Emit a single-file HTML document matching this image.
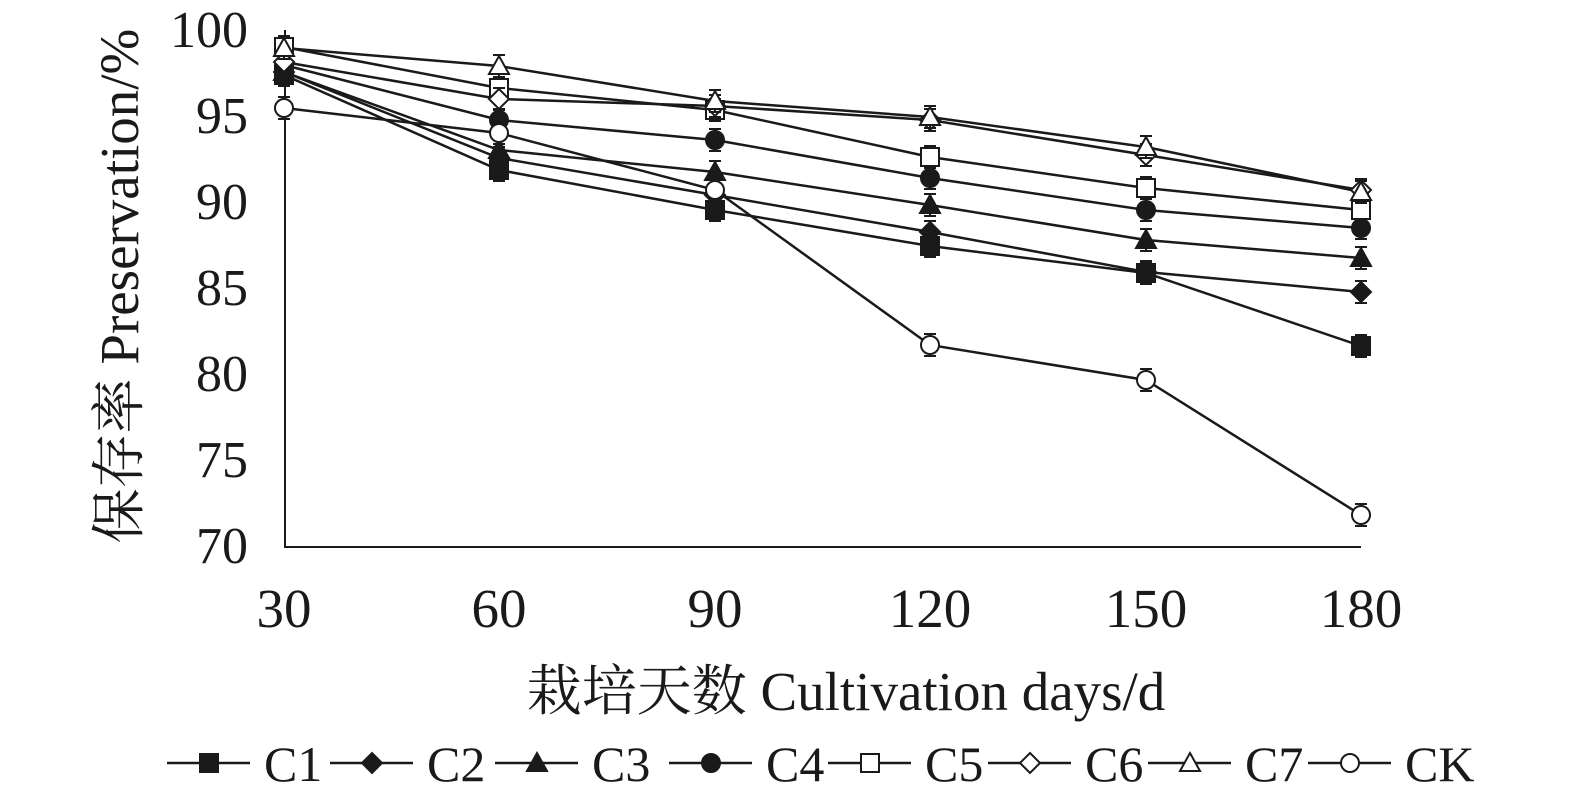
<!DOCTYPE html>
<html><head><meta charset="utf-8"><style>
html,body{margin:0;padding:0;background:#fff;}
svg{display:block;font-family:"Liberation Serif","Noto Serif CJK SC",serif;}
</style></head><body>
<svg id="s" width="1575" height="796" viewBox="0 0 1575 796" xmlns="http://www.w3.org/2000/svg">
<g stroke="#1a1a1a" stroke-width="2" fill="none">
<line x1="285" y1="30" x2="285" y2="547"/>
<line x1="284" y1="547" x2="1361" y2="547"/>
</g>
<g font-size="52" fill="#1a1a1a" text-anchor="end">
<text x="248" y="47">100</text>
<text x="248" y="133">95</text>
<text x="248" y="219">90</text>
<text x="248" y="305">85</text>
<text x="248" y="391">80</text>
<text x="248" y="477">75</text>
<text x="248" y="563">70</text>
</g>
<g font-size="55" fill="#1a1a1a" text-anchor="middle">
<text x="284" y="627">30</text>
<text x="499" y="627">60</text>
<text x="715" y="627">90</text>
<text x="930" y="627">120</text>
<text x="1146" y="627">150</text>
<text x="1361" y="627">180</text>
<text x="846" y="710">栽培天数 Cultivation days/d</text>
<text transform="translate(138,286) rotate(-90)">保存率 Preservation/%</text>
</g>
<g id="plot"></g>
<g id="leg"></g>
</svg>
<script>
var X=[284,499,715,930,1146,1361];
var S=[
["sqf",[75,170,210,246,273,346]],
["dif",[72,158,195,232,272,292]],
["trf",[72,150,172,205,240,258]],
["cif",[65,120,140,178,210,228]],
["sqo",[47,88,110,157,188,210]],
["dio",[62,99,106,120,155,190]],
["tro",[48,66,101,117,147,192]],
["cio",[108,133,190,345,380,515]]];
var ns="http://www.w3.org/2000/svg";
function el(p,t,a){var e=document.createElementNS(ns,t);for(var k in a)e.setAttribute(k,a[k]);p.appendChild(e);return e;}
function mk(p,type,x,y,r){var f=type[2]=='f'?'#1a1a1a':'#fff',a={fill:f,stroke:'#1a1a1a','stroke-width':2};r=r||10;
var t=type.slice(0,2);
if(t=='sq'){a.x=x-r+1;a.y=y-r+1;a.width=2*r-2;a.height=2*r-2;el(p,'rect',a);}
else if(t=='ci'){a.cx=x;a.cy=y;a.r=r-1;el(p,'circle',a);}
else if(t=='di'){a.points=[x,y-r,x+r,y,x,y+r,x-r,y].join(' ');el(p,'polygon',a);}
else {a.points=[x,y-r,x+r,y+r-2,x-r,y+r-2].join(' ');el(p,'polygon',a);}}
var P=document.getElementById('plot');
S.forEach(function(s){var pts=s[1].map(function(y,i){return X[i]+','+y}).join(' ');
el(P,'polyline',{points:pts,fill:'none',stroke:'#1a1a1a','stroke-width':2.5});});
S.forEach(function(s){s[1].forEach(function(y,i){
el(P,'path',{d:'M'+X[i]+' '+(y-11)+'V'+(y+11)+'M'+(X[i]-6)+' '+(y-11)+'H'+(X[i]+6)+'M'+(X[i]-6)+' '+(y+11)+'H'+(X[i]+6),stroke:'#1a1a1a','stroke-width':2});
mk(P,s[0],X[i],y);});});
var L=document.getElementById('leg');var names=['C1','C2','C3','C4','C5','C6','C7','CK'];
var lx=[167,330,495,669,828,988,1148,1308];
names.forEach(function(n,i){var x=lx[i];
el(L,'line',{x1:x,y1:763,x2:x+83,y2:763,stroke:'#1a1a1a','stroke-width':2.5});
mk(L,S[i][0],x+42,763,10);
var t=el(L,'text',{x:x+97,y:781,'font-size':50,fill:'#1a1a1a'});t.textContent=n;});
</script>
</body></html>
